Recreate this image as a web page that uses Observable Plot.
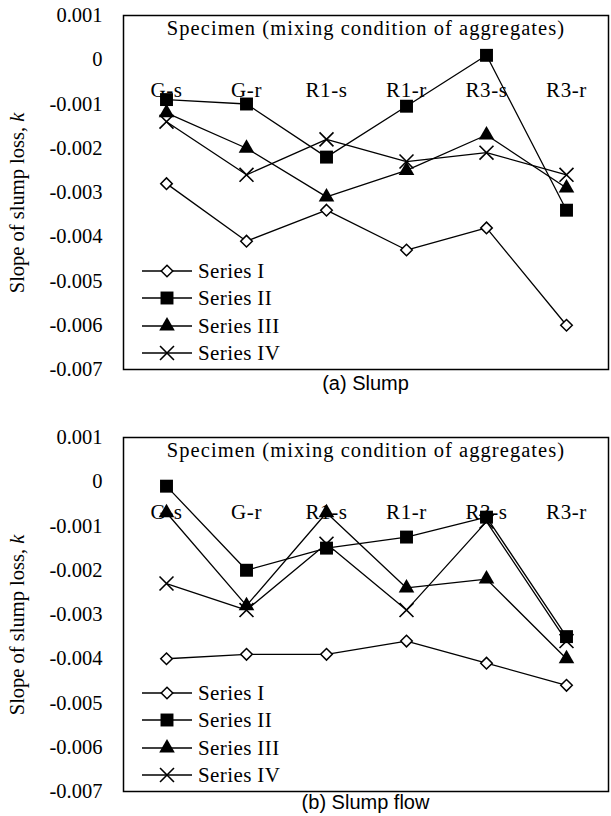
<!DOCTYPE html>
<html><head><meta charset="utf-8">
<script src="https://cdn.jsdelivr.net/npm/d3@7"></script>
<script src="https://cdn.jsdelivr.net/npm/@observablehq/plot@0.6"></script>
<style>
body{margin:0;background:#fff;}
#wrap{position:relative;width:611px;height:816px;font-family:"Liberation Serif","DejaVu Serif",serif;color:#000;}
.panel{position:absolute;left:0;overflow:visible;}
.panel text{font-family:"Liberation Serif","DejaVu Serif",serif !important;}
.cap{position:absolute;left:123px;width:485px;text-align:center;font-family:"Liberation Sans",Arial,sans-serif;font-size:20px;line-height:20px;}
.ytitle{position:absolute;left:17px;width:0;height:0;}
.ytitle span{position:absolute;transform:translate(-50%,-50%) rotate(-90deg);white-space:nowrap;font-size:20.5px;font-family:"Liberation Serif","DejaVu Serif",serif;}
.legend{position:absolute;left:140px;}
.legend .row{position:absolute;left:0;height:26px;display:flex;align-items:center;white-space:nowrap;font-size:21px;letter-spacing:0.4px;transform:translateY(-50%);font-family:"Liberation Serif","DejaVu Serif",serif;}
.legend svg{display:block;margin-right:4px;}
</style></head>
<body><div id="wrap"></div>
<script>
const categories = ["G-s", "G-r", "R1-s", "R1-r", "R3-s", "R3-r"];
const seriesNames = ["Series I", "Series II", "Series III", "Series IV"];
const yTicks = [0.001, 0, -0.001, -0.002, -0.003, -0.004, -0.005, -0.006, -0.007];
const innerTitle = "Specimen (mixing condition of aggregates)";
const yTitle = "Slope of slump loss, ";
const captions = ["(a) Slump", "(b) Slump flow"];

// (a) Slump
const slumpI   = [-0.0028, -0.0041, -0.0034, -0.0043, -0.0038, -0.0060];
const slumpII  = [-0.0009, -0.0010, -0.0022, -0.00105, 0.0001, -0.0034];
const slumpIII = [-0.0012, -0.0020, -0.0031, -0.0025, -0.0017, -0.0029];
const slumpIV  = [-0.0014, -0.0026, -0.0018, -0.0023, -0.0021, -0.0026];
// (b) Slump flow
const flowI   = [-0.0040, -0.0039, -0.0039, -0.0036, -0.0041, -0.0046];
const flowII  = [-0.0001, -0.0020, -0.0015, -0.00125, -0.0008, -0.0035];
const flowIII = [-0.0007, -0.0028, -0.0007, -0.0024, -0.0022, -0.0040];
const flowIV  = [-0.0023, -0.0029, -0.0014, -0.0029, -0.0009, -0.0036];

const SERIF = "Liberation Serif, DejaVu Serif, serif";
const symbolStyle = {
  "Series I":   {symbol: "diamond2", r: 5.2, fill: "white", stroke: "black", strokeWidth: 1.5},
  "Series II":  {symbol: "square",   r: 7.3, fill: "black", stroke: "none", strokeWidth: 0},
  "Series III": {symbol: "triangle", r: 5.8, fill: "black", stroke: "none", strokeWidth: 0},
  "Series IV":  {symbol: "times",    r: 6.4, fill: "none",  stroke: "black", strokeWidth: 1.6}
};
const d3Symbols = {diamond2: d3.symbolDiamond2, square: d3.symbolSquare, triangle: d3.symbolTriangle, times: d3.symbolTimes};

function tidy(arrs) {
  const rows = [];
  arrs.forEach((arr, si) => arr.forEach((v, ci) => rows.push({series: seriesNames[si], cat: categories[ci], value: v})));
  return rows;
}
const fmt = d => d === 0 ? "0" : d.toFixed(3);

function chart(data) {
  const svg = Plot.plot({
    width: 611, height: 375,
    marginLeft: 123, marginRight: 3, marginTop: 15, marginBottom: 6,
    style: {fontFamily: SERIF, fontSize: "20px", background: "white", overflow: "visible"},
    x: {type: "point", domain: categories, padding: 0.5, axis: null},
    y: {domain: [-0.007, 0.001], axis: null},
    marks: [
      Plot.axisY({ticks: yTicks, tickFormat: fmt, tickSize: 0, tickPadding: 21, fontSize: 20.5, fontFamily: SERIF, fontVariant: "normal", label: null}),
      Plot.frame({stroke: "black", strokeWidth: 1.5}),
      Plot.text([innerTitle], {text: d => d, frameAnchor: "top", lineAnchor: "middle", dy: 13, fontSize: 20.5, fontFamily: SERIF}),
      Plot.text(categories, {x: d => d, text: d => d, frameAnchor: "top", lineAnchor: "middle", dy: 75, fontSize: 21, fontFamily: SERIF}),
      Plot.line(data, {x: "cat", y: "value", z: "series", stroke: "black", strokeWidth: 1.3}),
      ...seriesNames.map(s => Plot.dot(data, {
        filter: d => d.series === s, x: "cat", y: "value",
        symbol: symbolStyle[s].symbol, r: symbolStyle[s].r,
        fill: symbolStyle[s].fill, stroke: symbolStyle[s].stroke, strokeWidth: symbolStyle[s].strokeWidth
      }))
    ]
  });
  d3.select(svg).selectAll("text")
    .filter(function() { return this.textContent === innerTitle; })
    .attr("letter-spacing", "1.05px");
  d3.select(svg).selectAll("text")
    .filter(function() { return categories.includes(this.textContent); })
    .attr("letter-spacing", "0.6px");
  return svg;
}

function legend(top) {
  const div = document.createElement("div");
  div.className = "legend";
  div.style.top = top + "px";
  const offsets = [256, 283, 311, 338];
  seriesNames.forEach((s, i) => {
    const row = document.createElement("div");
    row.className = "row";
    row.style.top = offsets[i] + "px";
    const st = symbolStyle[s];
    const svg = d3.create("svg").attr("width", 54).attr("height", 26);
    svg.append("line").attr("x1", 2).attr("x2", 52).attr("y1", 13).attr("y2", 13).attr("stroke", "black").attr("stroke-width", 1.3);
    svg.append("path")
      .attr("transform", "translate(27,13)")
      .attr("d", d3.symbol(d3Symbols[st.symbol], Math.PI * st.r * st.r)())
      .attr("fill", st.fill).attr("stroke", st.stroke).attr("stroke-width", st.strokeWidth);
    row.appendChild(svg.node());
    const t = document.createElement("span");
    t.textContent = s;
    row.appendChild(t);
    div.appendChild(row);
  });
  return div;
}

const wrap = document.getElementById("wrap");
const panels = [{data: tidy([slumpI, slumpII, slumpIII, slumpIV]), top: 0, cap: 373},
                {data: tidy([flowI, flowII, flowIII, flowIV]), top: 422, cap: 792}];
panels.forEach((p, i) => {
  const el = chart(p.data);
  el.classList.add("panel");
  el.style.top = p.top + "px";
  wrap.appendChild(el);
  wrap.appendChild(legend(p.top + 15));
  const yt = document.createElement("div");
  yt.className = "ytitle";
  yt.style.top = (p.top + 203) + "px";
  yt.innerHTML = "<span>" + yTitle + "<i>k</i></span>";
  wrap.appendChild(yt);
  const c = document.createElement("div");
  c.className = "cap";
  c.style.top = p.cap + "px";
  c.textContent = captions[i];
  wrap.appendChild(c);
});
</script></body></html>
